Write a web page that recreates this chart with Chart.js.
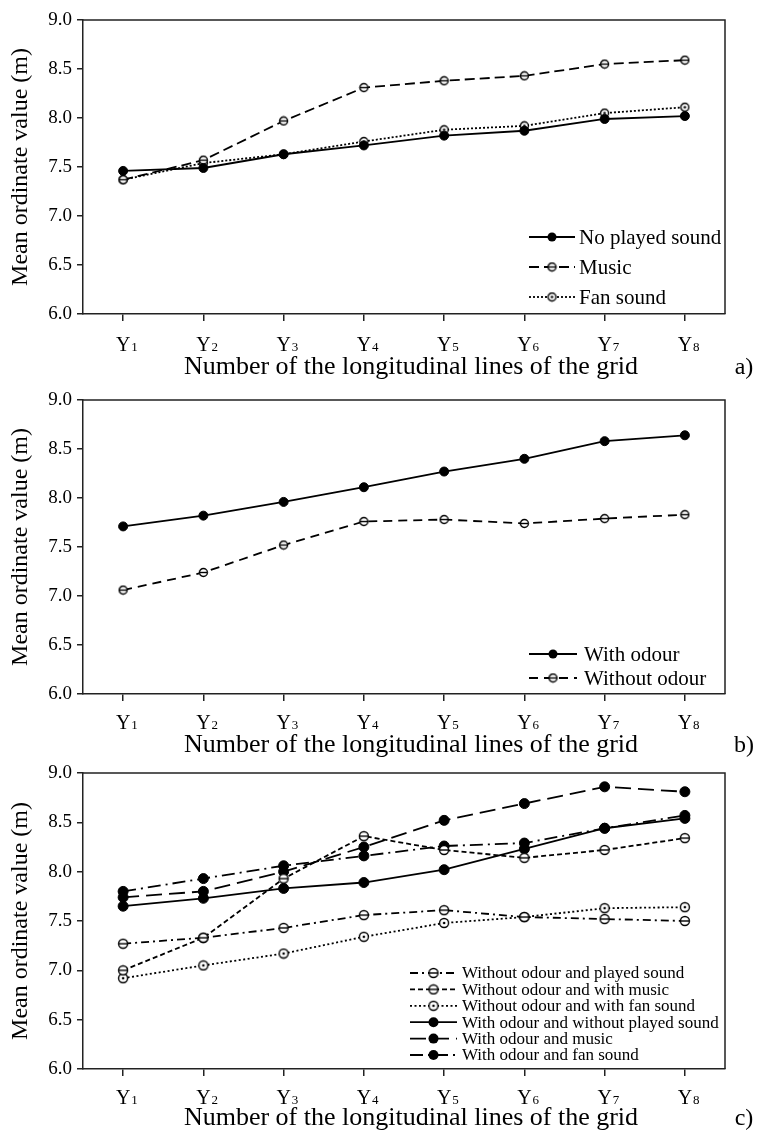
<!DOCTYPE html>
<html>
<head>
<meta charset="utf-8">
<script src="https://cdn.jsdelivr.net/npm/chart.js@4.4.1/dist/chart.umd.min.js"></script>
<style>
  body { margin: 0; background: #fff; }
  .panel { position: absolute; left: 0; width: 759px; }
</style>
</head>
<body>
<div class="panel" style="top:0;height:386px"><canvas id="chartA"></canvas></div>
<div class="panel" style="top:378px;height:386px"><canvas id="chartB"></canvas></div>
<div class="panel" style="top:756px;height:374px"><canvas id="chartC"></canvas></div>
<script>
// categories (grid lines) and tick labels
const categories = ['Y1', 'Y2', 'Y3', 'Y4', 'Y5', 'Y6', 'Y7', 'Y8'];
const yTicks = [6.0, 6.5, 7.0, 7.5, 8.0, 8.5, 9.0];

// panel a)
const noPlayedSound = [7.46, 7.49, 7.63, 7.72, 7.82, 7.87, 7.99, 8.02];
const music = [7.37, 7.57, 7.97, 8.31, 8.38, 8.43, 8.55, 8.59];
const fanSound = [7.37, 7.54, 7.63, 7.76, 7.88, 7.92, 8.05, 8.11];

// panel b)
const withOdour = [7.71, 7.82, 7.96, 8.11, 8.27, 8.40, 8.58, 8.64];
const withoutOdour = [7.06, 7.24, 7.52, 7.76, 7.78, 7.74, 7.79, 7.83];

// panel c)
const woPlayed = [7.27, 7.33, 7.43, 7.56, 7.61, 7.54, 7.52, 7.50];
const woMusic = [7.00, 7.33, 7.93, 8.36, 8.22, 8.14, 8.22, 8.34];
const woFan = [6.92, 7.05, 7.17, 7.34, 7.48, 7.54, 7.63, 7.64];
const wSilent = [7.65, 7.73, 7.83, 7.89, 8.02, 8.23, 8.44, 8.54];
const wMusic = [7.74, 7.80, 8.00, 8.25, 8.52, 8.69, 8.86, 8.81];
const wFan = [7.80, 7.93, 8.06, 8.16, 8.26, 8.29, 8.44, 8.57];

const serif = "'Liberation Serif', 'Times New Roman', serif";
const xTitle = 'Number of the longitudinal lines of the grid';

// open circle markers: 'bar' = line through it, 'dot' = dot in the middle
function ring(kind, r) {
    const c = document.createElement('canvas');
    const s = Math.ceil(2 * r + 3);
    c.width = s; c.height = s;
    const g = c.getContext('2d');
    const m = s / 2;
    g.fillStyle = '#fff'; g.strokeStyle = '#000'; g.lineWidth = 1.4;
    g.beginPath(); g.arc(m, m, r, 0, Math.PI * 2); g.fill(); g.stroke();
    if (kind === 'bar') {
        g.beginPath(); g.moveTo(m - r, m); g.lineTo(m + r, m); g.stroke();
    } else {
        g.fillStyle = '#000';
        g.beginPath(); g.arc(m, m, 1.3, 0, Math.PI * 2); g.fill();
    }
    return c;
}

function series(label, data, dash, marker, r) {
    return {
        label: label,
        data: data,
        borderColor: '#000',
        borderWidth: 1.8,
        borderDash: dash,
        tension: 0,
        fill: false,
        pointStyle: marker === 'filled' ? 'circle' : ring(marker, r),
        pointRadius: r,
        pointBackgroundColor: '#000',
        pointBorderColor: '#000',
        pointBorderWidth: 1
    };
}

function drawMarker(ctx, ds, cx, cy) {
    if (ds.pointStyle instanceof HTMLCanvasElement) {
        const img = ds.pointStyle;
        ctx.drawImage(img, cx - img.width / 2, cy - img.height / 2);
    } else {
        ctx.fillStyle = '#000';
        ctx.beginPath(); ctx.arc(cx, cy, ds.pointRadius, 0, Math.PI * 2); ctx.fill();
    }
}

// frame, Y-labels with small index, x title, panel letter and the inner legend
const extras = {
    id: 'extras',
    afterDraw(chart, args, opts) {
        const { ctx, chartArea: a } = chart;
        const x = chart.scales.x;
        ctx.save();
        ctx.strokeStyle = '#222';
        ctx.lineWidth = 1.5;
        ctx.beginPath();
        ctx.moveTo(a.left, a.top); ctx.lineTo(a.right, a.top); ctx.lineTo(a.right, a.bottom);
        ctx.stroke();

        ctx.fillStyle = '#000';
        ctx.textBaseline = 'alphabetic';
        chart.data.labels.forEach((lab, i) => {
            const px = x.getPixelForValue(i);
            ctx.font = '20px ' + serif;
            const w = ctx.measureText(lab[0]).width;
            ctx.textAlign = 'center';
            ctx.fillText(lab[0], px, opts.labelY);
            ctx.font = '13px ' + serif;
            ctx.textAlign = 'left';
            ctx.fillText(lab.slice(1), px + w / 2 + 1, opts.labelY);
        });

        ctx.font = '26px ' + serif;
        ctx.textAlign = 'center';
        ctx.fillText(xTitle, 411, opts.titleY);

        ctx.font = '24px ' + serif;
        ctx.fillText(opts.letter, 744, opts.titleY);

        const L = opts.legend;
        chart.data.datasets.forEach((ds, i) => {
            const y = L.y + i * L.gap;
            ctx.strokeStyle = '#000';
            ctx.lineWidth = ds.borderWidth;
            ctx.setLineDash(ds.borderDash || []);
            ctx.beginPath(); ctx.moveTo(L.x, y); ctx.lineTo(L.x + L.len, y); ctx.stroke();
            ctx.setLineDash([]);
            drawMarker(ctx, ds, L.x + L.len / 2, y);
            ctx.fillStyle = '#000';
            ctx.font = L.size + 'px ' + serif;
            ctx.textAlign = 'left';
            ctx.textBaseline = 'middle';
            ctx.fillText(ds.label, L.x + L.len + L.pad, y + 1);
        });
        ctx.restore();
    }
};

function makeChart(id, datasets, letter, frame, legend) {
    const canvas = document.getElementById(id);
    const H = canvas.parentNode.clientHeight;
    return new Chart(canvas.getContext('2d'), {
        type: 'line',
        data: { labels: categories, datasets: datasets },
        options: {
            responsive: true,
            maintainAspectRatio: false,
            animation: false,
            layout: { padding: { top: frame.top, right: 34, left: 0, bottom: 0 } },
            plugins: {
                legend: { display: false },
                tooltip: { enabled: false },
                extras: { letter: letter, labelY: frame.labelY, titleY: frame.titleY, legend: legend }
            },
            scales: {
                x: {
                    type: 'category',
                    offset: true,
                    grid: { drawOnChartArea: false, drawTicks: true, tickLength: 7, color: '#222', lineWidth: 1.5 },
                    border: { display: true, color: '#222', width: 1.5 },
                    ticks: { display: false },
                    afterFit(s) { s.height = H - frame.bottom; }
                },
                y: {
                    min: 6,
                    max: 9,
                    afterBuildTicks(s) { s.ticks = yTicks.map(v => ({ value: v })); },
                    ticks: {
                        callback: v => v.toFixed(1),
                        color: '#000',
                        font: { family: serif, size: 19 },
                        padding: 5
                    },
                    grid: { drawOnChartArea: false, tickLength: 6, color: '#222', lineWidth: 1.5 },
                    border: { display: true, color: '#222', width: 1.5 },
                    title: {
                        display: true,
                        text: 'Mean ordinate value (m)',
                        color: '#000',
                        font: { family: serif, size: 24 },
                        padding: { top: 6, bottom: 0 }
                    },
                    afterFit(s) { s.width = 83; }
                }
            }
        },
        plugins: [extras]
    });
}

makeChart('chartA', [
    series('No played sound', noPlayedSound, [], 'filled', 4.5),
    series('Music', music, [10, 5], 'bar', 4),
    series('Fan sound', fanSound, [2, 2], 'dot', 4)
], 'a)', { top: 20, bottom: 314, labelY: 351, titleY: 374 },
   { x: 529, y: 237, gap: 30, len: 46, pad: 4, size: 21 });

makeChart('chartB', [
    series('With odour', withOdour, [], 'filled', 4.5),
    series('Without odour', withoutOdour, [9, 6], 'bar', 4)
], 'b)', { top: 22, bottom: 316, labelY: 351, titleY: 374 },
   { x: 529, y: 276, gap: 24, len: 48, pad: 7, size: 21 });

makeChart('chartC', [
    series('Without odour and played sound', woPlayed, [8, 4, 2, 4], 'bar', 4.5),
    series('Without odour and with music', woMusic, [5, 3], 'bar', 4.5),
    series('Without odour and with fan sound', woFan, [2, 2.5], 'dot', 4.5),
    series('With odour and without played sound', wSilent, [], 'filled', 5),
    series('With odour and music', wMusic, [16, 7], 'filled', 5),
    series('With odour and fan sound', wFan, [13, 5, 2, 5], 'filled', 5)
], 'c)', { top: 17, bottom: 313, labelY: 348, titleY: 369 },
   { x: 410, y: 217, gap: 16.4, len: 47, pad: 5, size: 17 });
</script>
</body>
</html>
